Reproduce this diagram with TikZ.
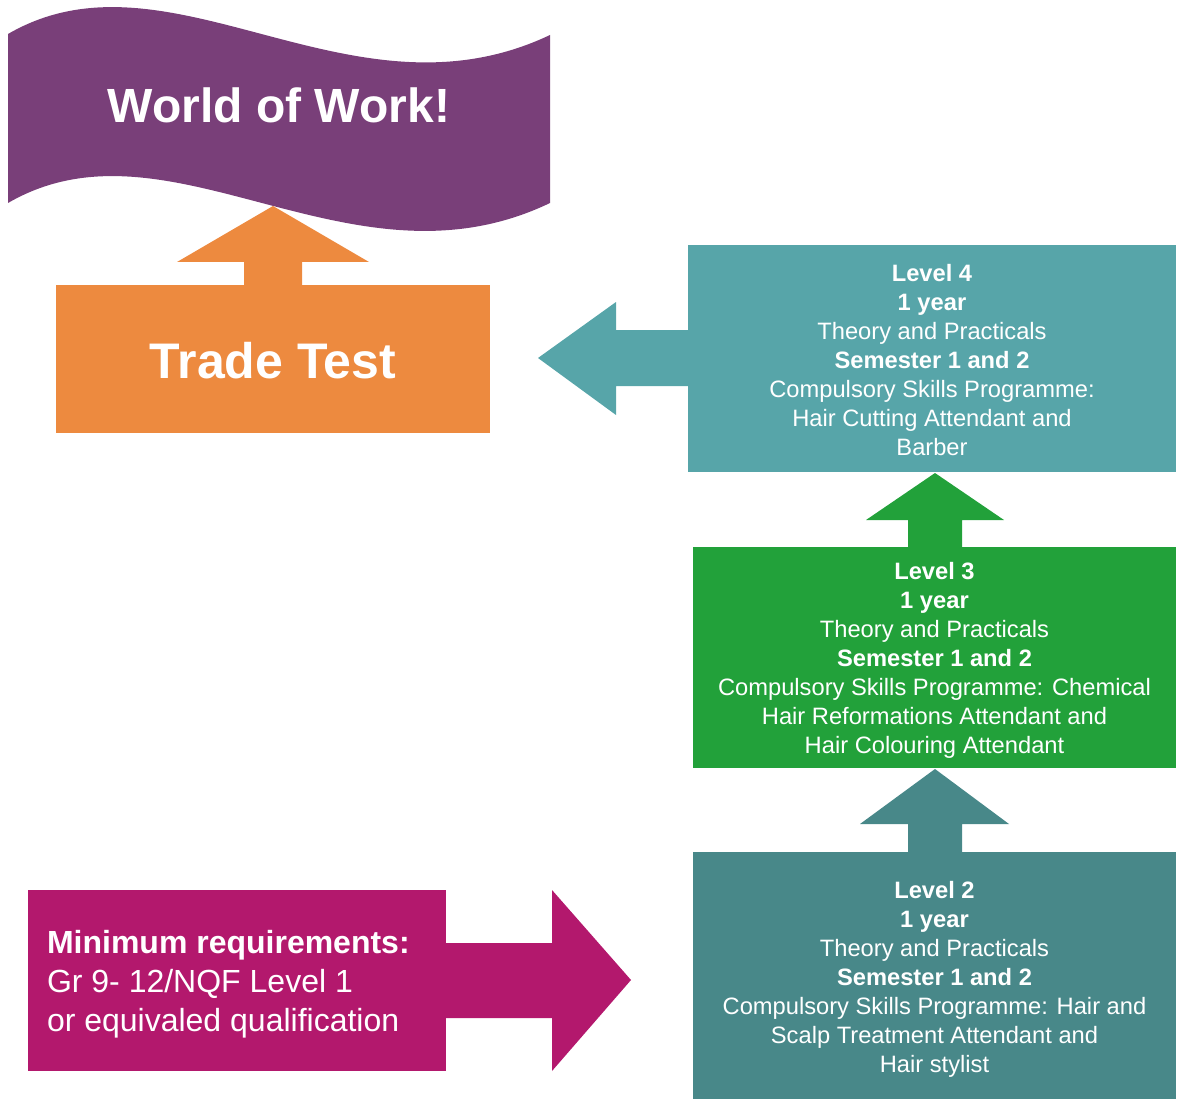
\documentclass[tikz,border=0pt]{standalone}
\usepackage{fontspec}
\setmainfont{Liberation Sans}
\definecolor{wowpurple}{HTML}{793F79}
\definecolor{ttorange}{HTML}{ED8A3F}
\definecolor{lfourteal}{HTML}{57A5A9}
\definecolor{lthreegreen}{HTML}{22A13A}
\definecolor{ltwoteal}{HTML}{488889}
\definecolor{reqmagenta}{HTML}{B3186D}
\tikzset{
  boxnode/.style={inner sep=0pt, outer sep=0pt, text=white, align=center},
  leveltext/.style={font=\fontsize{23.7}{29}\selectfont},
  bigtext/.style={font=\fontsize{48}{52}\selectfont\bfseries, text=white},
}
\begin{document}
\begin{tikzpicture}[x=1pt,y=-1pt]
\useasboundingbox (0,0) rectangle (1180,1099);
% banner
\fill[wowpurple] (8,34) .. controls (170,-60) and (350,130) .. (550,35) -- (550,203) .. controls (350,299) and (170,109) .. (8,203) -- cycle;
\node[bigtext] (wow) at (279,105) {World of Work!};
% trade test
\fill[ttorange] (244,287) -- (244,262) -- (177,262) -- (273,206) -- (369,262) -- (302,262) -- (302,287) -- cycle;
\node[boxnode, fill=ttorange, minimum width=434pt, minimum height=148pt] (tt) at (273,359) {};
\node[bigtext, font=\fontsize{50}{52}\selectfont\bfseries] (tttext) at (273,361) {Trade Test};
% level 4
\fill[lfourteal] (690,330) -- (616,330) -- (616,302) -- (538,358) -- (616,415) -- (616,386) -- (690,386) -- cycle;
\node[boxnode, fill=lfourteal, minimum width=488pt, minimum height=227pt] (l4) at (932,358.5) {};
\node[boxnode, leveltext] (l4text) at (932,360)
 {\textbf{Level 4}\\ \textbf{1 year}\\ Theory and Practicals\\ \textbf{Semester 1 and 2}\\ Compulsory Skills Programme:\\ Hair Cutting Attendant and\\ Barber};
% level 3
\fill[lthreegreen] (908,549) -- (908,520) -- (866,520) -- (935,473) -- (1004,520) -- (962,520) -- (962,549) -- cycle;
\node[boxnode, fill=lthreegreen, minimum width=483pt, minimum height=221pt] (l3) at (934.5,657.5) {};
\node[boxnode, leveltext] (l3text) at (934.5,660)
 {\textbf{Level 3}\\ \textbf{1 year}\\ Theory and Practicals\\ \textbf{Semester 1 and 2}\\ Compulsory Skills Programme: Chemical\\ Hair Reformations Attendant and\\ Hair Colouring Attendant};
% level 2
\fill[ltwoteal] (908,854) -- (908,824) -- (860,824) -- (935,769) -- (1009,824) -- (962,824) -- (962,854) -- cycle;
\node[boxnode, fill=ltwoteal, minimum width=483pt, minimum height=247pt] (l2) at (934.5,975.5) {};
\node[boxnode, leveltext] (l2text) at (934.5,979)
 {\textbf{Level 2}\\ \textbf{1 year}\\ Theory and Practicals\\ \textbf{Semester 1 and 2}\\ Compulsory Skills Programme: Hair and\\ Scalp Treatment Attendant and\\ Hair stylist};
% minimum requirements
\fill[reqmagenta] (444,943) -- (552,943) -- (552,890) -- (631,980) -- (552,1071) -- (552,1018) -- (444,1018) -- cycle;
\node[boxnode, fill=reqmagenta, minimum width=418pt, minimum height=181pt] (req) at (237,980.5) {};
\node[boxnode, align=left, anchor=west, font=\fontsize{32}{39}\selectfont] (reqtext) at (47,984)
 {\textbf{Minimum requirements:}\\ Gr 9- 12/NQF Level 1\\ or equivaled qualification};
\end{tikzpicture}
\end{document}
